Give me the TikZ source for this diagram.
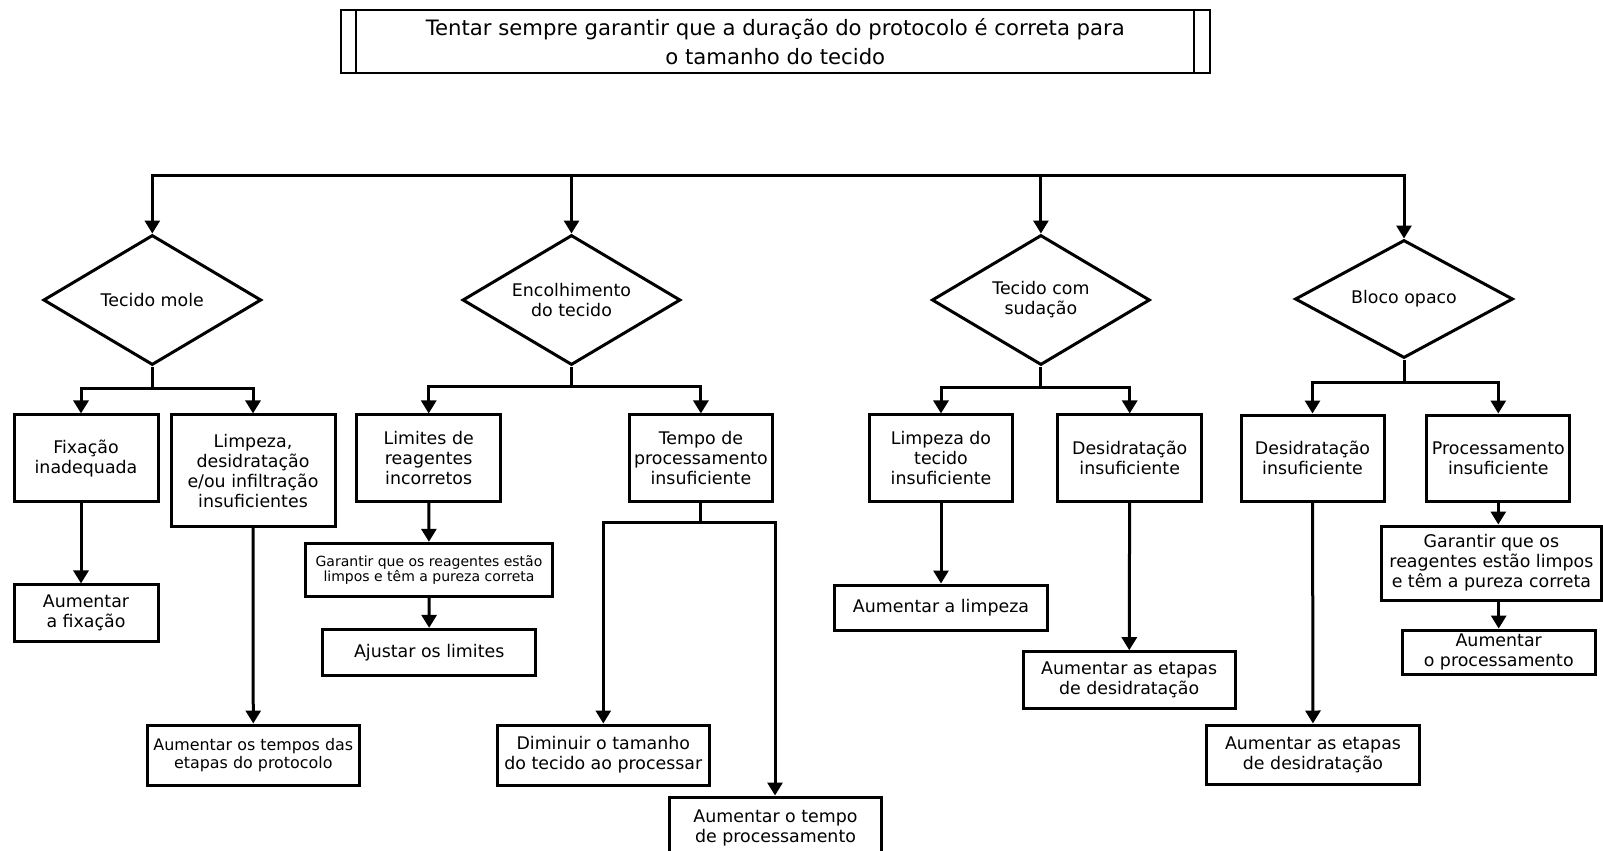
\documentclass[tikz,border=0pt]{standalone}
\usepackage{fontspec}
\setmainfont{DejaVu Sans}
\usetikzlibrary{arrows.meta, shapes.geometric}

\begin{document}
\begin{tikzpicture}[
  x=1pt, y=-1pt,
  box/.style={draw, line width=3pt, align=center, inner sep=0pt,
    font=\fontsize{17.4}{20}\selectfont},
  smallbox/.style={box, font=\fontsize{14}{15.5}\selectfont},
  thinbox/.style={box, font=\fontsize{15.9}{17.5}\selectfont},
  decision/.style={draw, diamond, line width=3pt, align=center,
    inner sep=0pt, aspect=1.68, minimum width=218pt,
    font=\fontsize{17.4}{20}\selectfont},
  link/.style={line width=3pt},
  >={Triangle[length=13pt, width=15pt]}
]
  \useasboundingbox (0,0) rectangle (1603,851);

  % Title
  \node[box, line width=2.2pt, minimum width=869pt, minimum height=63pt,
    font=\fontsize{21.2}{28.6}\selectfont] (title) at (775.3,41.7)
    {Tentar sempre garantir que a duração do protocolo é correta para\\
     o tamanho do tecido};
  \draw[line width=2.2pt] ([xshift=16.6pt]title.north west)
    -- ([xshift=16.6pt]title.south west);
  \draw[line width=2.2pt] ([xshift=-16.6pt]title.north east)
    -- ([xshift=-16.6pt]title.south east);

  % Decisions
  \node[decision, minimum height=130pt] (d1) at (152.3,300) {Tecido mole};
  \node[decision, minimum height=130pt] (d2) at (571.5,300)
    {Encolhimento\\do tecido};
  \node[decision, minimum height=130pt] (d3) at (1040.9,300)
    {Tecido com\\sudação};
  \node[decision, minimum height=118pt] (d4) at (1404,299) {Bloco opaco};

  % Bus to the decisions
  \coordinate (bus) at (778,175);
  \foreach \i in {1,...,4} {
    \draw[link, ->] (bus) -| (d\i.north);
  }

  % Causes
  \node[box, minimum width=144pt, minimum height=86.7pt] (b1) at (86,458.3)
    {Fixação\\inadequada};
  \node[box, minimum width=164pt, minimum height=111.7pt] (b2) at (253,470.8)
    {Limpeza,\\desidratação\\e/ou infiltração\\insuficientes};
  \node[box, minimum width=144pt, minimum height=86.7pt] (b3) at (428.7,458.3)
    {Limites de\\reagentes\\incorretos};
  \node[box, minimum width=143.7pt, minimum height=86.7pt] (b4) at (700.9,458.3)
    {Tempo de\\processamento\\insuficiente};
  \node[box, minimum width=143.4pt, minimum height=86.7pt] (b5) at (941,458.3)
    {Limpeza do\\tecido\\insuficiente};
  \node[box, minimum width=144pt, minimum height=86.7pt] (b6) at (1129.7,458.3)
    {Desidratação\\insuficiente};
  \node[box, minimum width=143pt, minimum height=86pt] (b7) at (1312.5,458)
    {Desidratação\\insuficiente};
  \node[box, minimum width=143.3pt, minimum height=86pt] (b8) at (1498.3,458)
    {Processamento\\insuficiente};

  % Branches under the decisions
  \coordinate (j1) at (152.3,388);
  \coordinate (j2) at (571.5,386);
  \coordinate (j3) at (1040.9,387);
  \coordinate (j4) at (1404,382);
  \foreach \i in {1,...,4} {
    \draw[link] (d\i.south) -- (j\i);
  }
  \draw[link, ->] (j1) -| ([xshift=-5pt]b1.north);
  \draw[link, ->] (j1) -| (b2.north);
  \draw[link, ->] (j2) -| (b3.north);
  \draw[link, ->] (j2) -| (b4.north);
  \draw[link, ->] (j3) -| (b5.north);
  \draw[link, ->] (j3) -| (b6.north);
  \draw[link, ->] (j4) -| (b7.north);
  \draw[link, ->] (j4) -| (b8.north);

  % Actions
  \node[box, minimum width=144pt, minimum height=56.7pt] (c1) at (86,613.3)
    {Aumentar\\a fixação};
  \node[thinbox, minimum width=212pt, minimum height=60pt] (c2) at (253.3,755)
    {Aumentar os tempos das\\etapas do protocolo};
  \node[smallbox, minimum width=246.6pt, minimum height=53.4pt] (c3) at (429,570)
    {Garantir que os reagentes estão\\limpos e têm a pureza correta};
  \node[box, minimum width=213pt, minimum height=45.7pt] (c4) at (429.2,652.2)
    {Ajustar os limites};
  \node[box, minimum width=212pt, minimum height=60pt] (c5) at (603.3,755)
    {Diminuir o tamanho\\do tecido ao processar};
  \node[box, minimum width=212.4pt, minimum height=62pt] (c6) at (775.5,828)
    {Aumentar o tempo\\de processamento};
  \node[box, minimum width=213.4pt, minimum height=45pt] (c7) at (941,607.5)
    {Aumentar a limpeza};
  \node[box, minimum width=211.7pt, minimum height=56.6pt] (c8) at (1129.2,680)
    {Aumentar as etapas\\de desidratação};
  \node[box, minimum width=219.3pt, minimum height=74pt] (c9) at (1491.4,563)
    {Garantir que os\\reagentes estão limpos\\e têm a pureza correta};
  \node[box, minimum width=192.7pt, minimum height=44.3pt] (c10) at (1498.7,652.2)
    {Aumentar\\o processamento};
  \node[box, minimum width=212.6pt, minimum height=59pt] (c11) at (1313,754.5)
    {Aumentar as etapas\\de desidratação};

  % Cause to action
  \draw[link, ->] ([xshift=-5pt]b1.south) -- ([xshift=-5pt]c1.north);
  \draw[link, ->] (b2) -- (c2);
  \draw[link, ->] (b3) -- (c3);
  \draw[link, ->] (c3) -- (c4);
  \coordinate (split) at (700.9,522.7);
  \draw[link] (b4.south) -- (split);
  \draw[link, ->] (split) -| (c5.north);
  \draw[link, ->] (split) -| ([xshift=-0.5pt]c6.north);
  \draw[link, ->] (b5) -- (c7);
  \draw[link, ->] (b6) -- (c8);
  \draw[link, ->] (b7) -- (c11);
  \draw[link, ->] (b8.south) -- (b8.south |- c9.north);
  \draw[link, ->] (c9.south -| c10.north) -- (c10.north);
\end{tikzpicture}
\end{document}
